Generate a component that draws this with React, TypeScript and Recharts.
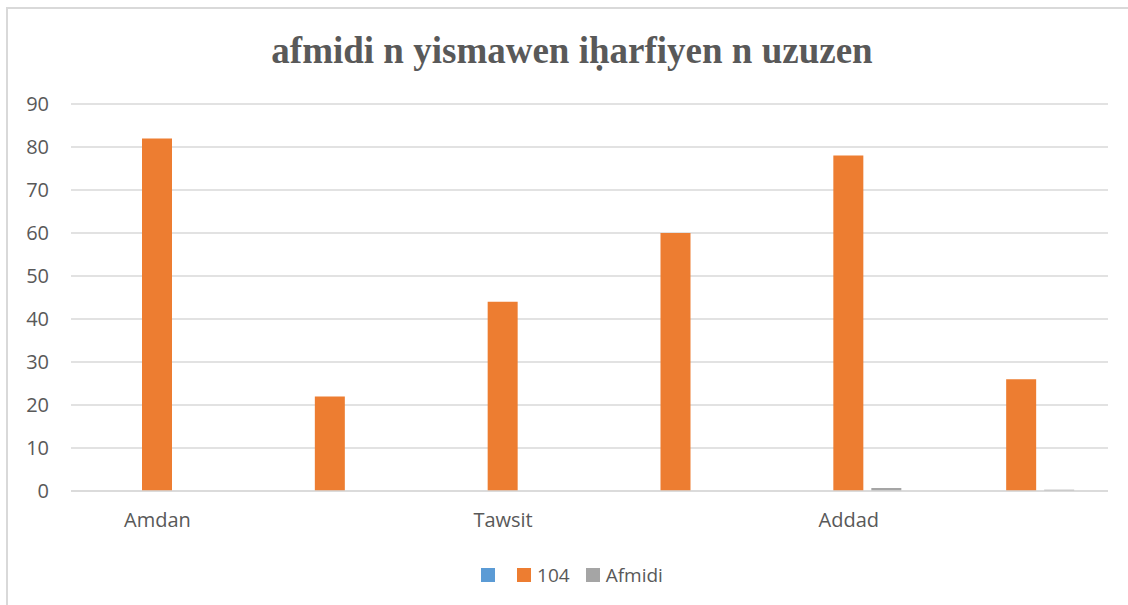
import React from "react";
import { BarChart, Bar, XAxis, YAxis, CartesianGrid, Legend } from "recharts";

const tickLabels = ["Amdan", "", "Tawsit", "", "Addad", ""];
const blueValues = [0, 0, 0, 0, 0, 0];
const values104 = [82, 22, 44, 60, 78, 26];
const afmidiValues = [0, 0, 0, 0, 0.7, 0.3];
const yTicks = [0, 10, 20, 30, 40, 50, 60, 70, 80, 90];

const data = tickLabels.map((name, i) => ({
  name,
  blue: blueValues[i],
  v104: values104[i],
  afmidi: afmidiValues[i],
}));

const FONT = "'Open Sans', 'Noto Sans', sans-serif";
const TEXT = "#595959";

const legendItems = [
  { label: "", color: "#5B9BD5" },
  { label: "104", color: "#ED7D31" },
  { label: "Afmidi", color: "#A5A5A5" },
];

function ChartLegend() {
  return (
    <div style={{ display: "flex", justifyContent: "center", fontFamily: FONT, fontSize: 19, color: TEXT, paddingLeft: 16 }}>
      {legendItems.map((it, i) => (
        <div key={i} style={{ display: "flex", alignItems: "center", marginRight: i < legendItems.length - 1 ? 16 : 0 }}>
          <span style={{ width: 14, height: 14, background: it.color, display: "inline-block", marginRight: 6 }} />
          <span>{it.label}</span>
        </div>
      ))}
    </div>
  );
}

export default function App() {
  return (
    <div style={{ position: "absolute", left: 0, top: 0, width: 1128, height: 605, background: "#fff", overflow: "hidden" }}>
      <div style={{ position: "absolute", left: 6, top: 7, width: 1200, height: 700, borderTop: "2px solid #d9d9d9", borderLeft: "2px solid #d9d9d9" }} />
      <div
        style={{
          position: "absolute",
          left: 0,
          top: 29,
          width: 1144,
          textAlign: "center",
          fontFamily: "'Liberation Serif', 'Times New Roman', serif",
          fontWeight: "bold",
          fontSize: 37,
          color: TEXT,
        }}
      >
        afmidi n yismawen iḥarfiyen n uzuzen
      </div>
      <div style={{ position: "absolute", left: 0, top: 0 }}>
        <BarChart width={1128} height={605} data={data} margin={{ top: 104, right: 20, bottom: 74, left: 10 }} barSize={30} barGap={8}>
          <CartesianGrid vertical={false} stroke="#d9d9d9" strokeWidth={1.3} />
          <XAxis
            dataKey="name"
            interval={0}
            tickLine={false}
            axisLine={{ stroke: "#d9d9d9", strokeWidth: 1.3 }}
            tick={{ fontSize: 20, fill: TEXT, fontFamily: FONT }}
            tickMargin={16}
            height={40}
          />
          <YAxis
            domain={[0, 90]}
            ticks={yTicks}
            interval={0}
            width={61}
            axisLine={false}
            tickLine={false}
            tickMargin={16}
            tick={{ fontSize: 20, fill: TEXT, fontFamily: FONT }}
          />
          <Legend
            layout="horizontal"
            verticalAlign="middle"
            align="center"
            content={() => <ChartLegend />}
            wrapperStyle={{ position: "absolute", top: 562, left: 0, width: 1128 }}
          />
          <Bar dataKey="blue" name=" " fill="#5B9BD5" isAnimationActive={false} />
          <Bar dataKey="v104" name="104" fill="#ED7D31" isAnimationActive={false} />
          <Bar dataKey="afmidi" name="Afmidi" fill="#A5A5A5" isAnimationActive={false} />
        </BarChart>
      </div>
    </div>
  );
}
